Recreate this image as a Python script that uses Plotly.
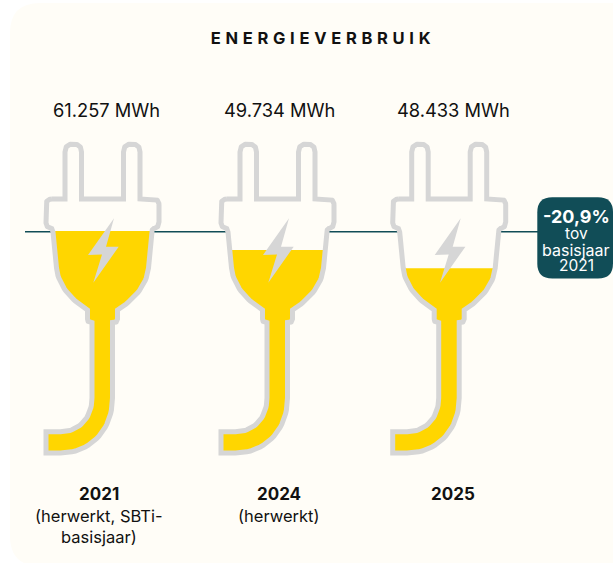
import numpy as np
import plotly.graph_objects as go

# ---- data ----
years = ["2021", "2024", "2025"]
subtitles = ["(herwerkt, SBTi-<br>basisjaar)", "(herwerkt)", ""]
values_mwh = ["61.257 MWh", "49.734 MWh", "48.433 MWh"]
bowl_fill_share = [1.00, 0.76, 0.53]
title = "ENERGIEVERBRUIK"
badge_lines = ["-20,9%", "tov", "basisjaar", "2021"]

# ---- layout constants (pixels of the 613x563 canvas) ----
W, H = 613, 563
plug_x = [102.5, 277.5, 449.2]
value_x = [106, 279, 453]
label_x = [99, 279, 453]
BG = "#FFFDF7"
GREY = "#D6D6D6"
YELLOW = "#FFD600"
TEAL = "#114D57"
INK = "#111111"
FONT = "Inter"
BOWL_TOP, BOWL_BOTTOM = 231.0, 310.0
LEVEL_Y = 231.7

# plug outline, offsets from the plug's centre line
OUTLINE = [
    ("M", -50.5, 199), ("L", -37.5, 199), ("L", -37.5, 152),
    ("Q", -37.5, 144, -29.25, 144), ("Q", -21, 144, -21, 152),
    ("L", -21, 199), ("L", 21, 199), ("L", 21, 152),
    ("Q", 21, 144, 29.25, 144), ("Q", 37.5, 144, 37.5, 152),
    ("L", 37.5, 199), ("L", 50.5, 199), ("Q", 56.5, 199, 56.5, 205),
    ("L", 56.5, 222), ("Q", 56.5, 228, 51, 228.5), ("Q", 49.5, 229, 49.5, 232),
    ("L", 46, 268), ("C", 44, 288, 28, 302, 15, 310),
    ("L", 15, 319), ("Q", 15, 322.5, 11.5, 322.5), ("L", 10, 322.5),
    ("L", 10, 398), ("C", 10, 430, -12, 453, -42, 453),
    ("L", -56.5, 453), ("L", -56.5, 431.8), ("L", -42, 431.8),
    ("C", -23, 431.8, -10.5, 417, -10.5, 398),
    ("L", -10.5, 322.5), ("L", -11.5, 322.5), ("Q", -15, 322.5, -15, 319),
    ("L", -15, 310), ("C", -28, 302, -44, 288, -46, 268),
    ("L", -49.5, 232), ("Q", -49.5, 229, -51, 228.5), ("Q", -56.5, 228, -56.5, 222),
    ("L", -56.5, 205), ("Q", -56.5, 199, -50.5, 199),
]
BOLT_DX = [11.5, -14.5, -0.5, -9.2, 16.2, 3.5, 11.5]
BOLT_Y = [218.3, 255, 254.5, 282.7, 246.7, 246.7, 218.3]


def sample(path, n=24):
    pts = []
    for seg in path:
        c = seg[0]
        v = np.array(seg[1:], dtype=float)
        if c in "ML":
            pts.append(v)
        else:
            p0 = pts[-1]
            t = np.linspace(0, 1, n)[1:, None]
            if c == "Q":
                p1, p2 = v[:2], v[2:]
                q = (1 - t) ** 2 * p0 + 2 * (1 - t) * t * p1 + t ** 2 * p2
            else:
                p1, p2, p3 = v[:2], v[2:4], v[4:]
                q = ((1 - t) ** 3 * p0 + 3 * (1 - t) ** 2 * t * p1
                     + 3 * (1 - t) * t ** 2 * p2 + t ** 3 * p3)
            pts.extend(list(q))
    return np.array(pts)


def clip_below(poly, level):
    """Keep the part of a closed polygon lying below the (pixel) level."""
    out = []
    for i in range(len(poly)):
        a, b = poly[i], poly[(i + 1) % len(poly)]
        ina, inb = a[1] >= level, b[1] >= level
        if ina:
            out.append(a)
        if ina != inb:
            s = (level - a[1]) / (b[1] - a[1])
            out.append(a + s * (b - a))
    out.append(out[0])
    return np.array(out)


outline = sample(OUTLINE)
fig = go.Figure()

# reference line at the base-year level
fig.add_trace(go.Scatter(x=[25, 540], y=[LEVEL_Y, LEVEL_Y], mode="lines",
                         line=dict(color=TEAL, width=1.5), hoverinfo="skip"))

for cx, share in zip(plug_x, bowl_fill_share):
    x = outline[:, 0] + cx
    y = outline[:, 1]
    fig.add_trace(go.Scatter(x=x, y=y, mode="lines", fill="toself", fillcolor=BG,
                             line=dict(width=0), hoverinfo="skip"))
    level = BOWL_BOTTOM - share * (BOWL_BOTTOM - BOWL_TOP)
    part = clip_below(outline, level)
    fig.add_trace(go.Scatter(x=part[:, 0] + cx, y=part[:, 1], mode="lines", fill="toself",
                             fillcolor=YELLOW, line=dict(width=0), hoverinfo="skip"))
    fig.add_trace(go.Scatter(x=x, y=y, mode="lines", line=dict(color=GREY, width=5),
                             hoverinfo="skip"))
    fig.add_trace(go.Scatter(x=np.array(BOLT_DX) + cx, y=BOLT_Y, mode="lines", fill="toself",
                             fillcolor=GREY, line=dict(width=0), hoverinfo="skip"))


def label(x, y, text, size, weight=400, color=INK):
    fig.add_annotation(x=x, y=y, text=text, showarrow=False, xanchor="center", yanchor="middle",
                       align="center", font=dict(family=FONT, size=size, color=color, weight=weight))


label(322.5, 38, title, 16.5, 700)
for xv, t in zip(value_x, values_mwh):
    label(xv, 110, t, 18.3)
for xl, yr, sub in zip(label_x, years, subtitles):
    label(xl, 493.5, yr, 17, 700)
    if sub:
        parts = sub.split("<br>")
        for i, p in enumerate(parts):
            label(xl, 516 + 21 * i, p, 16.5)

badge_y = [216, 233, 249.5, 265]
badge_size = [18, 15.5, 16, 15.5]
badge_w = [700, 400, 400, 400]
for by, bt, bs, bw in zip(badge_y, badge_lines, badge_size, badge_w):
    label(576, by, bt, bs, bw, "#FFFFFF")


def round_rect(x0, y0, x1, y1, r):
    return (f"M {x0+r},{y0} L {x1-r},{y0} Q {x1},{y0} {x1},{y0+r} L {x1},{y1-r} "
            f"Q {x1},{y1} {x1-r},{y1} L {x0+r},{y1} Q {x0},{y1} {x0},{y1-r} "
            f"L {x0},{y0+r} Q {x0},{y0} {x0+r},{y0} Z")


fig.update_layout(
    width=W, height=H, margin=dict(l=0, r=0, t=0, b=0), showlegend=False,
    paper_bgcolor="#FFFFFF", plot_bgcolor="rgba(0,0,0,0)",
    xaxis=dict(range=[0, W], visible=False, fixedrange=True),
    yaxis=dict(range=[H, 0], visible=False, fixedrange=True),
    shapes=[
        dict(type="path", xref="x", yref="y", layer="below", line_width=0, fillcolor=BG,
             path=round_rect(10, 3, 660, 566, 30)),
        dict(type="path", xref="x", yref="y", layer="above", line_width=0, fillcolor=TEAL,
             path=round_rect(537.3, 197.3, 613, 278.5, 15)),
    ],
)
# annotations draw above shapes, so the badge text stays visible

post = f"""
document.body.style.margin='0';document.body.style.overflow='hidden';
document.querySelectorAll('.annotation-text').forEach(function(t){{
  if(t.textContent==='{title}'){{t.style.letterSpacing='4.7px';}}
}});
"""
fig.write_html("out.html", post_script=post, config={"displayModeBar": False})
